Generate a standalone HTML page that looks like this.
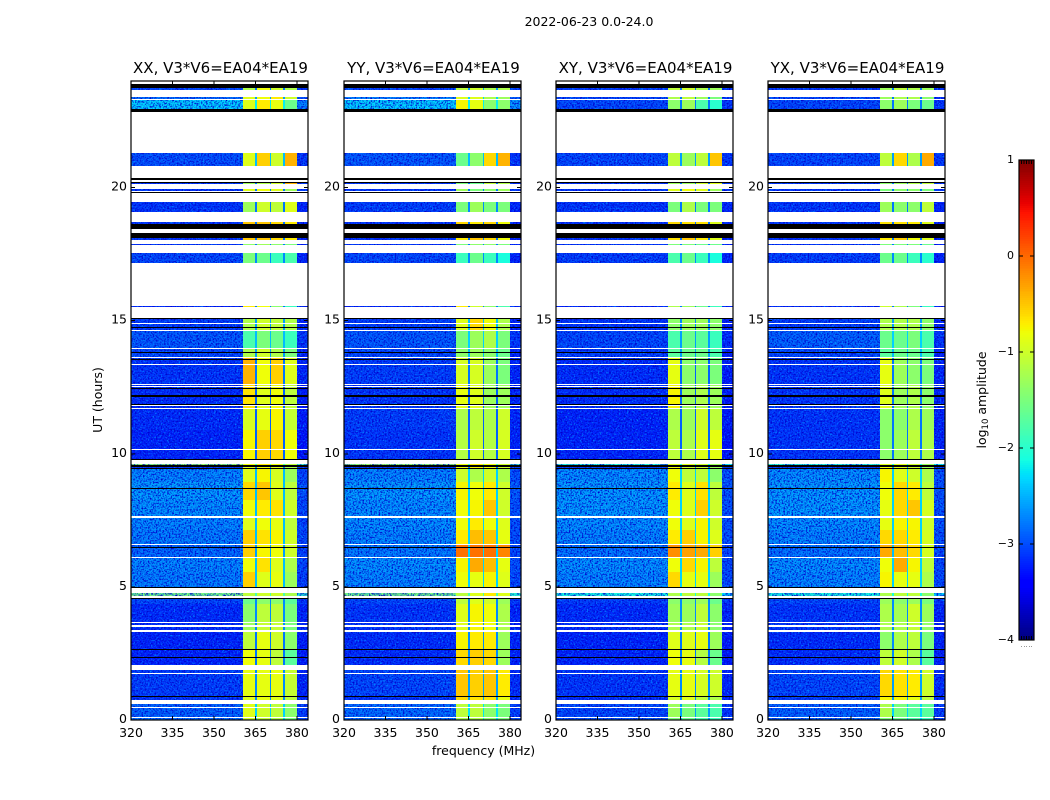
<!DOCTYPE html>
<html lang="en">
<head>
<meta charset="utf-8">
<title>2022-06-23 0.0-24.0</title>
<style>
html,body{margin:0;padding:0;background:#fff;}
svg{display:block;}
text{font-family:"DejaVu Sans","Liberation Sans",sans-serif;fill:#000;}
</style>
</head>
<body>
<svg id="figure" xmlns="http://www.w3.org/2000/svg" width="1050" height="800" viewBox="0 0 1050 800">
<defs>
<filter id="speckle" x="0" y="0" width="1" height="1" color-interpolation-filters="sRGB">
<feTurbulence type="fractalNoise" baseFrequency="0.62" numOctaves="2" seed="7" result="n"/>
<feColorMatrix in="n" type="matrix" values="0 0 0 0 0  0 0 0 0 0.6  0 0 0 0 1  3 0 0 0 -1.55" result="lightRaw"/>
<feComposite in="lightRaw" in2="SourceAlpha" operator="in" result="light"/>
<feColorMatrix in="n" type="matrix" values="0 0 0 0 0  0 0 0 0 0  0 0 0 0 0.8  0 3 0 0 -1.3" result="darkRaw"/>
<feComposite in="darkRaw" in2="SourceAlpha" operator="in" result="dark"/>
<feMerge><feMergeNode in="SourceGraphic"/><feMergeNode in="light"/><feMergeNode in="dark"/></feMerge>
</filter>
</defs>
<rect x="0" y="0" width="1050" height="800" fill="#fff"/>
<text x="589" y="26" text-anchor="middle" font-size="12.5">2022-06-23 0.0-24.0</text>
<text transform="translate(102,400) rotate(-90)" text-anchor="middle" font-size="12.5">UT (hours)</text>
<text x="483.5" y="755" text-anchor="middle" font-size="12.5">frequency (MHz)</text>
<text transform="translate(986,400) rotate(-90)" text-anchor="middle" font-size="12.5">log<tspan font-size="8.5" dy="2">10</tspan><tspan dy="-2"> amplitude</tspan></text>
<g id="panels"></g>
<g id="colorbar"></g>
</svg>
<script>
// Frequency column edges (MHz) and which value of a row each column reads:
// 0 background, 1-4 the four bright sub-bands, 5 the notch between bands, 6 the upper tail.
const freqEdges = [320, 360.6, 364.8, 365.7, 370.1, 370.6, 375.1, 375.7, 379.9, 384];
const freqColumnValue = [0, 1, 5, 2, 5, 3, 5, 4, 6];
const freqTicks = [320, 335, 350, 365, 380];
const timeTicks = [0, 5, 10, 15, 20];
const colorTicks = [1, 0, -1, -2, -3, -4];
const panelTitles = ['XX, V3*V6=EA04*EA19', 'YY, V3*V6=EA04*EA19', 'XY, V3*V6=EA04*EA19', 'YX, V3*V6=EA04*EA19'];

// Time blocks in UT hours, top to bottom.
const timeTop =    [23.73,23.40,23.29,21.31,20.22,19.96,19.47,18.72,18.10,17.89,17.54,15.55,15.09,14.61,13.97,13.60,12.61,11.69,10.89,9.62,9.58,9.43,8.94,8.26,7.59,7.14,6.57,6.08,5.56,4.77,4.53,4.36,3.68,3.32,2.67,1.87,0.90,0.60,0.08];
const timeBottom = [23.66,23.29,22.93,20.82,20.12,19.87,19.08,18.63,18.03,17.84,17.18,15.50,14.61,13.97,13.60,12.61,11.69,10.89,9.78,9.58,9.43,8.94,8.26,7.59,7.14,6.57,6.08,5.56,4.97,4.66,4.36,3.68,3.32,2.67,2.08,0.90,0.74,0.12,0];

// log10 amplitude per block: [background, band1, band2, band3, band4, notch, tail]
const xxValues = [
[-3.0,-1.2,-0.8,-1.0,-1.2,-2.8,-3.1],[-2.8,-0.9,-0.8,-0.7,-1.0,-2.6,-3.0],[-2.3,-0.9,-0.7,-0.85,-1.6,-2.2,-2.7],
[-2.95,-0.9,-0.55,-1.0,-0.4,-2.45,-3.1],[-3.1,-1.3,-1.2,-1.0,-0.4,-2.8,-3.1],[-3.1,-0.9,-0.8,-0.9,-1.3,-2.8,-3.1],
[-3.1,-1.3,-1.0,-1.1,-0.9,-2.8,-3.2],[-3.1,-0.5,-0.5,-0.6,-0.7,-2.8,-3.2],[-3.1,-0.5,-0.5,-0.6,-0.7,-2.8,-3.2],
[-3.1,-1.4,-1.3,-1.4,-1.5,-2.8,-3.2],[-3.0,-1.5,-1.6,-1.9,-1.8,-2.7,-3.2],[-3.2,-0.7,-0.8,-1.4,-1.9,-2.8,-3.2],
[-3.05,-1.2,-1.0,-1.1,-1.2,-2.6,-3.2],[-2.9,-1.8,-1.5,-1.6,-1.9,-2.45,-3.1],[-3.0,-1.2,-1.0,-1.2,-1.5,-2.6,-3.2],
[-3.1,-0.4,-0.8,-0.55,-0.9,-2.8,-3.2],[-3.15,-0.65,-0.9,-0.8,-1.1,-2.9,-3.25],[-3.15,-0.95,-0.85,-0.75,-1.05,-2.9,-3.25],
[-3.2,-0.75,-0.55,-0.6,-0.8,-2.9,-3.3],[-1.3,-0.8,-0.7,-0.8,-1.1,-1.8,-1.9],[-3.1,-0.9,-0.8,-0.9,-1.2,-2.8,-3.1],
[-2.65,-0.9,-0.75,-0.95,-1.3,-2.45,-3.0],[-2.55,-0.6,-0.5,-0.9,-1.1,-2.45,-2.95],[-2.6,-0.8,-0.7,-0.65,-1.0,-2.45,-3.0],
[-2.65,-0.9,-0.8,-0.85,-1.1,-2.45,-3.0],[-2.7,-0.55,-0.65,-0.75,-1.0,-2.45,-3.0],[-2.8,-0.55,-0.75,-0.8,-1.0,-2.6,-3.05],
[-2.65,-0.8,-0.65,-0.9,-1.2,-2.45,-3.0],[-2.7,-0.55,-0.9,-0.85,-1.3,-2.45,-3.05],[-1.5,-1.1,-1.0,-1.0,-1.2,-1.8,-2.0],
[-3.0,-1.6,-1.4,-1.4,-1.7,-2.7,-3.1],[-3.15,-1.4,-1.1,-1.1,-1.5,-2.7,-3.2],[-3.15,-1.3,-1.05,-1.05,-1.5,-2.7,-3.2],
[-3.2,-1.1,-0.85,-1.0,-1.4,-2.8,-3.25],[-3.2,-0.8,-0.85,-1.1,-1.7,-2.8,-3.25],[-3.05,-0.85,-0.85,-0.85,-1.05,-2.7,-3.2],
[-3.1,-0.9,-0.85,-0.9,-1.1,-2.7,-3.2],[-2.85,-0.9,-1.0,-1.1,-1.4,-2.35,-3.05],[-2.8,-1.0,-1.1,-1.2,-1.5,-2.35,-3.0]
];
const yyValues = [
[-3.0,-1.1,-1.0,-1.2,-1.2,-2.6,-3.0],[-2.7,-0.9,-0.9,-1.2,-1.3,-2.35,-2.9],[-2.3,-0.75,-0.85,-1.4,-1.4,-2.2,-2.6],
[-2.9,-1.6,-1.4,-0.6,-0.4,-2.45,-3.1],[-3.1,-1.5,-1.6,-1.1,-1.2,-2.8,-3.1],[-3.1,-1.3,-1.5,-1.4,-1.3,-2.8,-3.1],
[-3.05,-1.5,-1.3,-1.5,-1.5,-2.7,-3.2],[-3.1,-0.6,-0.7,-0.6,-0.8,-2.8,-3.2],[-3.1,-0.7,-0.5,-0.6,-0.8,-2.8,-3.2],
[-3.1,-1.5,-1.4,-1.4,-1.5,-2.8,-3.2],[-3.0,-1.9,-1.6,-1.9,-2.1,-2.7,-3.2],[-3.2,-0.7,-1.0,-1.4,-1.8,-2.8,-3.2],
[-3.05,-0.9,-0.6,-0.8,-1.2,-2.45,-3.2],[-2.9,-1.5,-1.3,-1.2,-1.5,-2.35,-3.1],[-3.0,-1.4,-1.3,-1.4,-1.6,-2.45,-3.2],
[-3.05,-0.95,-0.95,-1.3,-1.5,-2.8,-3.2],[-3.1,-0.85,-0.9,-1.3,-1.3,-2.9,-3.2],[-3.05,-1.2,-1.1,-1.2,-1.0,-2.9,-3.2],
[-3.1,-1.15,-1.0,-1.15,-0.95,-2.9,-3.2],[-1.3,-0.8,-0.7,-0.8,-1.0,-1.8,-1.9],[-3.1,-0.8,-0.75,-0.8,-1.0,-2.8,-3.1],
[-2.65,-1.0,-1.2,-1.0,-1.2,-2.35,-2.95],[-2.55,-0.75,-0.8,-0.7,-1.0,-2.35,-2.9],[-2.6,-0.8,-0.75,-0.5,-1.0,-2.35,-2.95],
[-2.6,-0.8,-0.7,-0.8,-0.9,-2.35,-2.95],[-2.65,-0.7,-0.45,-0.5,-0.85,-2.35,-2.95],[-2.7,-0.05,-0.05,-0.05,-0.15,-2.35,-3.0],
[-2.6,-0.75,-0.35,-0.45,-0.85,-2.35,-2.95],[-2.65,-0.8,-0.85,-0.75,-0.9,-2.35,-3.0],[-1.5,-1.1,-0.9,-0.7,-0.9,-1.8,-2.0],
[-3.0,-1.1,-0.9,-1.0,-1.3,-2.7,-3.1],[-3.1,-0.9,-0.75,-0.8,-1.2,-2.7,-3.2],[-3.1,-0.9,-0.75,-0.8,-1.2,-2.7,-3.2],
[-3.15,-0.75,-0.7,-0.7,-1.3,-2.7,-3.2],[-3.15,-0.6,-0.55,-0.6,-1.3,-2.7,-3.2],[-3.0,-0.5,-0.55,-0.5,-0.7,-2.6,-3.15],
[-3.1,-0.6,-0.65,-0.65,-0.85,-2.6,-3.2],[-2.8,-1.1,-1.1,-1.4,-1.5,-2.25,-3.05],[-2.8,-1.2,-1.2,-1.4,-1.5,-2.25,-3.0]
];
const xyValues = [
[-3.05,-1.1,-1.0,-1.2,-1.3,-2.8,-3.1],[-3.0,-1.2,-1.1,-1.3,-1.5,-2.8,-3.1],[-3.0,-1.4,-1.3,-1.8,-2.0,-2.8,-3.1],
[-3.0,-1.1,-1.3,-1.1,-0.5,-2.6,-3.1],[-3.1,-1.3,-1.3,-1.0,-0.9,-2.8,-3.1],[-3.1,-0.9,-0.8,-0.9,-1.3,-2.8,-3.1],
[-3.1,-1.5,-1.2,-1.5,-1.5,-2.8,-3.2],[-3.1,-0.6,-0.65,-0.65,-0.9,-2.8,-3.2],[-3.1,-0.65,-0.5,-0.7,-0.9,-2.8,-3.2],
[-3.1,-1.5,-1.5,-1.6,-1.6,-2.8,-3.2],[-3.05,-1.8,-1.6,-1.9,-2.1,-2.7,-3.2],[-3.2,-1.2,-1.3,-1.6,-1.9,-2.8,-3.2],
[-3.1,-1.4,-1.3,-1.3,-1.4,-2.7,-3.2],[-3.0,-1.8,-1.6,-1.7,-1.9,-2.6,-3.15],[-3.05,-1.7,-1.6,-1.6,-1.8,-2.6,-3.2],
[-3.15,-0.85,-1.4,-1.4,-1.5,-2.9,-3.25],[-3.15,-0.75,-1.3,-1.2,-1.3,-2.9,-3.25],[-3.2,-1.2,-1.3,-1.0,-1.1,-2.9,-3.25],
[-3.2,-1.1,-1.2,-0.9,-0.85,-2.9,-3.3],[-2.0,-0.9,-0.9,-1.0,-1.3,-2.1,-2.2],[-3.05,-0.8,-1.0,-1.0,-1.3,-2.8,-3.1],
[-2.6,-0.8,-1.1,-1.1,-1.4,-2.35,-2.95],[-2.55,-0.7,-0.9,-0.65,-1.1,-2.35,-2.95],[-2.55,-0.8,-0.9,-0.55,-1.0,-2.35,-2.95],
[-2.6,-0.8,-0.9,-0.75,-1.0,-2.35,-2.95],[-2.65,-0.7,-0.55,-0.75,-0.9,-2.35,-2.95],[-2.75,-0.2,-0.3,-0.35,-0.55,-2.45,-3.0],
[-2.6,-0.8,-0.6,-0.75,-1.1,-2.35,-3.0],[-2.65,-0.6,-0.85,-0.85,-1.3,-2.35,-3.0],[-2.1,-1.2,-1.1,-1.1,-1.4,-2.1,-2.3],
[-3.05,-1.4,-1.4,-1.3,-1.6,-2.7,-3.1],[-3.15,-1.3,-1.3,-1.1,-1.4,-2.7,-3.2],[-3.15,-1.2,-1.2,-1.05,-1.4,-2.7,-3.2],
[-3.2,-0.9,-0.9,-0.85,-1.3,-2.8,-3.25],[-3.2,-0.8,-0.85,-1.15,-1.6,-2.8,-3.25],[-3.1,-0.85,-0.85,-0.95,-1.0,-2.7,-3.2],
[-3.15,-0.95,-0.9,-1.1,-1.2,-2.7,-3.2],[-3.0,-1.3,-1.5,-1.7,-1.8,-2.6,-3.1],[-2.95,-1.5,-1.6,-1.8,-1.9,-2.6,-3.05]
];
const yxValues = [
[-3.05,-1.3,-1.1,-1.2,-1.3,-2.8,-3.1],[-3.0,-1.3,-1.2,-1.2,-1.4,-2.8,-3.1],[-3.0,-1.4,-1.3,-1.5,-1.6,-2.8,-3.1],
[-3.0,-1.1,-0.6,-1.2,-0.35,-2.6,-3.1],[-3.1,-1.4,-1.3,-1.2,-1.1,-2.8,-3.1],[-3.1,-1.5,-1.4,-1.4,-1.5,-2.8,-3.1],
[-3.1,-1.3,-1.4,-1.4,-1.1,-2.8,-3.2],[-3.1,-0.65,-0.65,-0.7,-0.9,-2.8,-3.2],[-3.1,-0.7,-0.55,-0.8,-0.9,-2.8,-3.2],
[-3.1,-1.5,-1.5,-1.5,-1.6,-2.8,-3.2],[-3.05,-1.6,-1.6,-1.9,-2.0,-2.7,-3.2],[-3.2,-1.0,-1.2,-1.5,-1.9,-2.8,-3.2],
[-3.05,-1.2,-1.2,-1.2,-1.4,-2.6,-3.2],[-2.85,-1.6,-1.6,-1.5,-1.8,-2.35,-3.1],[-3.0,-1.7,-1.6,-1.6,-1.8,-2.45,-3.2],
[-3.1,-0.85,-1.3,-1.4,-1.5,-2.8,-3.2],[-3.1,-0.9,-1.3,-1.2,-1.4,-2.8,-3.2],[-3.1,-1.4,-1.4,-1.2,-1.3,-2.8,-3.2],
[-3.1,-1.4,-1.3,-1.1,-1.2,-2.8,-3.2],[-2.0,-0.9,-0.9,-1.0,-1.3,-2.1,-2.2],[-3.05,-0.8,-0.9,-1.0,-1.3,-2.7,-3.1],
[-2.6,-0.75,-0.9,-1.0,-1.2,-2.35,-2.95],[-2.55,-0.8,-0.6,-0.7,-1.1,-2.35,-2.95],[-2.55,-0.85,-0.6,-0.5,-0.95,-2.35,-2.95],
[-2.6,-0.85,-0.75,-0.75,-1.0,-2.35,-2.95],[-2.65,-0.6,-0.6,-0.7,-0.95,-2.35,-2.95],[-2.75,-0.35,-0.45,-0.6,-0.95,-2.45,-3.0],
[-2.6,-0.8,-0.35,-0.75,-1.1,-2.35,-3.0],[-2.65,-0.75,-0.85,-0.85,-1.2,-2.35,-3.0],[-2.1,-1.2,-1.1,-1.1,-1.4,-2.1,-2.3],
[-3.0,-1.3,-1.4,-1.3,-1.5,-2.7,-3.1],[-3.1,-1.2,-1.25,-1.0,-1.3,-2.7,-3.2],[-3.1,-1.2,-1.2,-1.05,-1.35,-2.7,-3.2],
[-3.15,-1.4,-1.2,-1.1,-1.5,-2.7,-3.2],[-3.15,-1.1,-1.0,-1.2,-1.7,-2.7,-3.2],[-3.0,-0.6,-0.65,-0.7,-1.0,-2.6,-3.15],
[-3.05,-0.75,-0.75,-0.85,-1.1,-2.6,-3.15],[-2.85,-1.2,-1.5,-1.7,-1.7,-2.35,-3.05],[-2.85,-1.5,-1.6,-1.8,-1.9,-2.35,-3.05]
];
const panelValues = [xxValues, yyValues, xyValues, yxValues];

// Flagged time ranges in UT hours: [top, bottom].
const blackFlags = [[23.88,23.73],[22.93,22.85],[20.35,20.27],[20.22,20.19],[19.83,19.80],[18.63,18.45],[18.30,18.10],[15.09,15.06],[14.77,14.75],[13.82,13.80],[13.56,13.53],[12.47,12.44],[12.20,12.14],[11.88,11.86],[9.80,9.78],[9.58,9.52],[9.45,9.43],[8.70,8.68],[6.49,6.45],[4.98,4.96],[4.57,4.53],[2.67,2.64],[2.37,2.34],[0.90,0.85]];
const whiteFlags = [[23.34,23.29],[14.90,14.86],[14.65,14.61],[13.97,13.93],[13.62,13.59],[13.37,13.33],[12.61,12.58],[12.54,12.50],[11.83,11.79],[11.73,11.69],[10.17,10.14],[7.66,7.59],[6.60,6.56],[6.11,6.07],[3.68,3.64],[3.58,3.56],[3.53,3.49],[3.39,3.32],[1.77,1.73],[0.48,0.44]];

const SVG_NS = 'http://www.w3.org/2000/svg';
const panelLeft = [131, 344, 556, 768];
const panelWidth = 177;
const plotTop = 81, plotBottom = 720;
const cbarLeft = 1019, cbarWidth = 15, cbarTop = 160, cbarBottom = 640;

function xScale(mhz, left) { return left + (mhz - 320) / 64 * panelWidth; }
function yScale(hours) { return plotBottom - hours / 24 * (plotBottom - plotTop); }
function colorY(v) { return cbarBottom - (v + 4) / 5 * (cbarBottom - cbarTop); }

function interp(stops, t) {
  for (let i = 1; i < stops.length; i++) {
    if (t <= stops[i][0]) {
      const a = stops[i - 1], b = stops[i];
      return a[1] + (b[1] - a[1]) * (t - a[0]) / (b[0] - a[0]);
    }
  }
  return stops[stops.length - 1][1];
}
const jetR = [[0,0],[0.35,0],[0.66,1],[0.89,1],[1,0.5]];
const jetG = [[0,0],[0.125,0],[0.375,1],[0.64,1],[0.91,0],[1,0]];
const jetB = [[0,0.5],[0.11,1],[0.34,1],[0.65,0],[1,0]];
function jet(v) {
  const t = Math.max(0, Math.min(1, (v + 4) / 5));
  return 'rgb(' + Math.round(255 * interp(jetR, t)) + ',' + Math.round(255 * interp(jetG, t)) + ',' + Math.round(255 * interp(jetB, t)) + ')';
}
function make(tag, parent) {
  const el = document.createElementNS(SVG_NS, tag);
  parent.appendChild(el);
  return el;
}
function box(el, x0, y0, x1, y1, fill) {
  const xa = Math.round(x0), xb = Math.round(x1);
  const ya = Math.round(y0), yb = Math.round(y1);
  el.setAttribute('x', xa);
  el.setAttribute('y', ya);
  el.setAttribute('width', Math.max(1, xb - xa));
  el.setAttribute('height', Math.max(1, yb - ya));
  el.setAttribute('fill', fill);
  el.setAttribute('shape-rendering', 'crispEdges');
}
function line(el, x1, y1, x2, y2) {
  el.setAttribute('x1', x1);
  el.setAttribute('y1', y1);
  el.setAttribute('x2', x2);
  el.setAttribute('y2', y2);
  el.setAttribute('stroke', '#000');
  el.setAttribute('stroke-width', '1');
  el.setAttribute('shape-rendering', 'crispEdges');
}

const panelsRoot = document.getElementById('panels');
panelValues.forEach(function (matrix, p) {
  const left = panelLeft[p];
  const g = make('g', panelsRoot);
  
  

  const title = make('text', g);
  
  
  title.setAttribute('x', left + panelWidth / 2 + 1);
  title.setAttribute('y', 73);
  title.setAttribute('text-anchor', 'middle');
  title.setAttribute('font-size', '15');
  title.textContent = panelTitles[p];

  const noisy = make('g', g);
  
  
  noisy.setAttribute('filter', 'url(#speckle)');
  const smooth = make('g', g);
  
  

  matrix.forEach(function (row, r) {
    const y0 = yScale(timeTop[r]);
    const y1 = yScale(timeBottom[r]);
    freqColumnValue.forEach(function (key, c) {
      const x0 = xScale(freqEdges[c], left);
      const x1 = xScale(freqEdges[c + 1], left);
      const cell = make('rect', key === 0 || key === 6 ? noisy : smooth);
      
      
      box(cell, x0, y0, x1, y1, jet(row[key]));
    });
  });

  whiteFlags.forEach(function (f) {
    const flag = make('rect', g);
    
    
    box(flag, left, yScale(f[0]), left + panelWidth, yScale(f[1]), '#fff');
  });
  blackFlags.forEach(function (f) {
    const flag = make('rect', g);
    
    
    box(flag, left, yScale(f[0]), left + panelWidth, yScale(f[1]), '#000');
  });

  const frame = make('rect', g);
  
  
  frame.setAttribute('x', left);
  frame.setAttribute('y', plotTop);
  frame.setAttribute('width', panelWidth);
  frame.setAttribute('height', plotBottom - plotTop);
  frame.setAttribute('fill', 'none');
  frame.setAttribute('stroke', '#000');
  frame.setAttribute('stroke-width', '1.2');

  freqTicks.forEach(function (f) {
    const x = xScale(f, left);
    const t1 = make('line', g);
    
    
    line(t1, x, plotBottom, x, plotBottom - 4);
    const t2 = make('line', g);
    
    
    line(t2, x, plotTop, x, plotTop + 4);
    const lab = make('text', g);
    
    
    lab.setAttribute('x', x);
    lab.setAttribute('y', 737);
    lab.setAttribute('text-anchor', 'middle');
    lab.setAttribute('font-size', '12.5');
    lab.textContent = f;
  });
  timeTicks.forEach(function (h) {
    const y = yScale(h);
    const t1 = make('line', g);
    
    
    line(t1, left, y, left + 4, y);
    const t2 = make('line', g);
    
    
    line(t2, left + panelWidth, y, left + panelWidth - 4, y);
    const lab = make('text', g);
    
    
    lab.setAttribute('x', left - 4);
    lab.setAttribute('y', y + 3);
    lab.setAttribute('text-anchor', 'end');
    lab.setAttribute('font-size', '12.5');
    lab.textContent = h;
  });
});

const cbarRoot = document.getElementById('colorbar');
for (let v = -4; v < 1; v += 0.02) {
  const step = make('rect', cbarRoot);
  
  
  box(step, cbarLeft, colorY(v + 0.02), cbarLeft + cbarWidth, colorY(v), jet(v + 0.01));
}
const cbarFrame = make('rect', cbarRoot);


cbarFrame.setAttribute('x', cbarLeft);
cbarFrame.setAttribute('y', cbarTop);
cbarFrame.setAttribute('width', cbarWidth);
cbarFrame.setAttribute('height', cbarBottom - cbarTop);
cbarFrame.setAttribute('fill', 'none');
cbarFrame.setAttribute('stroke', '#000');
cbarFrame.setAttribute('stroke-width', '1.2');
colorTicks.forEach(function (v) {
  const y = colorY(v);
  const t1 = make('line', cbarRoot);
  
  
  line(t1, cbarLeft, y, cbarLeft + 4, y);
  const t2 = make('line', cbarRoot);
  
  
  line(t2, cbarLeft + cbarWidth, y, cbarLeft + cbarWidth - 4, y);
  const lab = make('text', cbarRoot);
  
  
  lab.setAttribute('x', 1014);
  lab.setAttribute('y', y + 3);
  lab.setAttribute('text-anchor', 'end');
  lab.setAttribute('font-size', '11');
  lab.textContent = v < 0 ? '\u2212' + Math.abs(v) : String(v);
});
for (let i = 1; i <= 5; i++) {
  const x = cbarLeft + i * 2.5;
  const minorTop = make('line', cbarRoot);
  
  
  line(minorTop, x, cbarTop, x, cbarTop + 4);
  const minorBottom = make('line', cbarRoot);
  
  
  line(minorBottom, x, cbarBottom, x, cbarBottom - 4);
  const dot = make('rect', cbarRoot);
  
  
  box(dot, x - 0.5, cbarBottom + 6, x + 0.5, cbarBottom + 7, '#999');
}
</script>
</body>
</html>
